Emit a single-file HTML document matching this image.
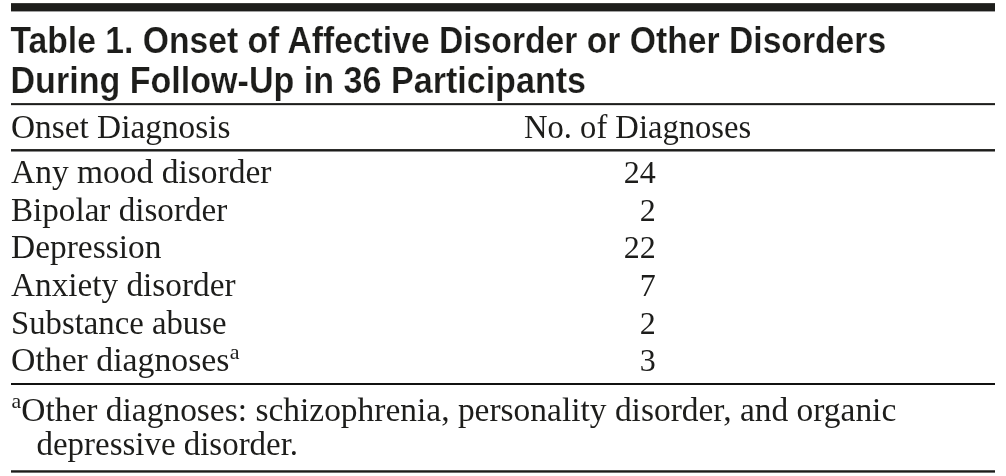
<!DOCTYPE html>
<html>
<head>
<meta charset="utf-8">
<title>Table 1</title>
<style>
html,body{margin:0;padding:0;background:#fff;}
body{width:1006px;height:476px;position:relative;overflow:hidden;color:#1d1d1b;}
#w{position:absolute;left:0;top:0;width:1006px;height:476px;background:#fff;will-change:transform;}
.bar{position:absolute;left:11px;width:984px;background:#1d1d1b;}
.t{position:absolute;white-space:nowrap;transform-origin:0 0;line-height:1;}
.h{font-family:"Liberation Sans",sans-serif;font-weight:bold;font-size:36.5px;-webkit-text-stroke:0.2px #fff;}
.s{font-family:"Liberation Serif",serif;font-size:33px;}
.n{font-family:"Liberation Serif",serif;font-size:32px;text-align:right;width:60px;transform-origin:100% 0;}
sup{font-size:21.5px;vertical-align:baseline;position:relative;top:-11.8px;line-height:0;margin-left:0.3px;}
sup.f{top:-12.8px;}
</style>
</head>
<body>
<div id="w">
<div class="bar" style="top:3px;height:1px;background:#3c3c3a;"></div>
<div class="bar" style="top:4px;height:7px;"></div>
<div class="bar" style="top:11px;height:1px;background:#a0a0a0;"></div>
<div class="t h" style="left:10px;top:22px;transform:translate(0.5px,0.8px) scaleX(0.9225);">Table 1. Onset of Affective Disorder or Other Disorders</div>
<div class="t h" style="left:10px;top:62px;transform:translate(0.5px,0.5px) scaleX(0.9335);">During Follow-Up in 36 Participants</div>
<div class="bar" style="top:103px;height:1px;background:#343432;"></div>
<div class="bar" style="top:104px;height:1px;"></div>
<div class="bar" style="top:105px;height:1px;background:#dcdcdc;"></div>
<div class="t s" style="left:11px;top:110px;transform:translate(0px,0.8px) scaleX(1.01);">Onset Diagnosis</div>
<div class="t s" style="left:524px;top:110px;transform:translate(0px,0.8px) scaleX(0.987);">No. of Diagnoses</div>
<div class="bar" style="top:149px;height:1px;background:#2c2c2a;"></div>
<div class="bar" style="top:150px;height:1px;"></div>
<div class="bar" style="top:151px;height:1px;background:#8a8a8a;"></div>
<div class="t s" style="left:11px;top:156px;transform:translate(0px,0.1px) scaleX(1.015);">Any mood disorder</div>
<div class="t s" style="left:11px;top:193px;transform:translate(0px,0.6px) scaleX(1.004);">Bipolar disorder</div>
<div class="t s" style="left:11px;top:231px;transform:translate(0px,0.2px) scaleX(1.013);">Depression</div>
<div class="t s" style="left:11px;top:268px;transform:translate(0px,0.8px) scaleX(1.008);">Anxiety disorder</div>
<div class="t s" style="left:11px;top:306px;transform:translate(0px,0.5px) scaleX(0.992);">Substance abuse</div>
<div class="t s" style="left:11px;top:344px;transform:translate(0px,0.1px) scaleX(1.023);">Other diagnoses<sup>a</sup></div>
<div class="t n" style="left:595px;top:156px;transform:translate(0.7px,0.1px) scaleX(1.0);">24</div>
<div class="t n" style="left:595px;top:193px;transform:translate(0.7px,0.6px) scaleX(1.0);">2</div>
<div class="t n" style="left:595px;top:231px;transform:translate(0.7px,0.2px) scaleX(1.0);">22</div>
<div class="t n" style="left:595px;top:268px;transform:translate(0.7px,0.8px) scaleX(1.0);">7</div>
<div class="t n" style="left:595px;top:306px;transform:translate(0.7px,0.5px) scaleX(1.0);">2</div>
<div class="t n" style="left:595px;top:344px;transform:translate(0.7px,0.1px) scaleX(1.0);">3</div>
<div class="bar" style="top:383px;height:2px;background:#111110;"></div>
<div class="t s" style="left:11px;top:394px;transform:translate(0.3px,0.3px) scaleX(1.0137);"><sup class="f">a</sup>Other diagnoses: schizophrenia, personality disorder, and organic</div>
<div class="t s" style="left:36px;top:428px;transform:translate(0.5px,0.1px) scaleX(0.998);">depressive disorder.</div>
<div class="bar" style="top:470px;height:1px;background:#555554;"></div>
<div class="bar" style="top:471px;height:1px;"></div>
<div class="bar" style="top:472px;height:1px;background:#6e6e6e;"></div>
</div>
</body>
</html>
